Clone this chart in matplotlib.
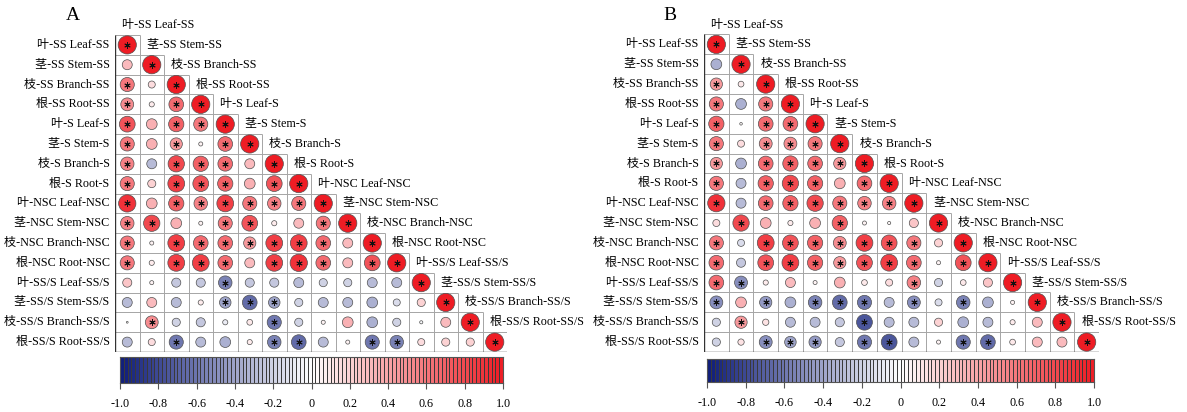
import numpy as np
import matplotlib.pyplot as plt
from matplotlib.colors import LinearSegmentedColormap

plt.rcParams['font.family'] = ['Liberation Serif', 'Noto Sans CJK SC']

labels = ['叶-SS Leaf-SS', '茎-SS Stem-SS', '枝-SS Branch-SS', '根-SS Root-SS',
          '叶-S Leaf-S', '茎-S Stem-S', '枝-S Branch-S', '根-S Root-S',
          '叶-NSC Leaf-NSC', '茎-NSC Stem-NSC', '枝-NSC Branch-NSC', '根-NSC Root-NSC',
          '叶-SS/S Leaf-SS/S', '茎-SS/S Stem-SS/S', '枝-SS/S Branch-SS/S', '根-SS/S Root-SS/S']

# lower triangle, row i holds the correlations with columns 0..i-1 (diagonal = 1)
corr_a = [
    [],
    [0.30],
    [0.60, 0.15],
    [0.50, 0.08, 0.65],
    [0.75, 0.35, 0.70, 0.60],
    [0.60, 0.35, 0.45, 0.05, 0.65],
    [0.55, -0.30, 0.80, 0.70, 0.65, 0.30],
    [0.60, 0.20, 0.85, 0.75, 0.70, 0.35, 0.75],
    [0.90, 0.35, 0.70, 0.55, 0.85, 0.60, 0.55, 0.60],
    [0.55, 0.80, 0.35, 0.05, 0.60, 0.75, 0.08, 0.30, 0.60],
    [0.60, 0.05, 0.85, 0.65, 0.65, 0.45, 0.85, 0.85, 0.65, 0.30],
    [0.60, 0.08, 0.85, 0.85, 0.65, 0.30, 0.85, 0.90, 0.65, 0.30, 0.75],
    [0.25, 0.05, -0.25, -0.25, -0.55, -0.25, -0.25, -0.30, -0.20, -0.20, -0.30, -0.30],
    [-0.30, 0.30, -0.30, 0.08, -0.40, -0.65, -0.40, -0.20, -0.30, -0.30, -0.35, -0.15, 0.20],
    [0.01, 0.50, -0.20, -0.25, -0.08, 0.10, -0.60, -0.20, 0.05, 0.35, -0.35, -0.20, -0.03, 0.30],
    [-0.30, 0.15, -0.60, -0.30, -0.35, 0.08, -0.55, -0.65, -0.30, 0.05, -0.60, -0.55, 0.15, 0.20, 0.20],
]

corr_b = [
    [],
    [-0.35],
    [0.45, 0.10],
    [0.60, -0.35, 0.60],
    [0.70, 0.02, 0.65, 0.65],
    [0.60, 0.15, 0.50, 0.50, 0.60],
    [0.45, -0.35, 0.65, 0.70, 0.65, 0.45],
    [0.60, -0.30, 0.70, 0.80, 0.70, 0.35, 0.65],
    [0.90, -0.30, 0.65, 0.70, 0.80, 0.60, 0.55, 0.55],
    [0.15, 0.80, 0.35, 0.08, 0.35, 0.70, 0.05, 0.03, 0.25],
    [0.60, -0.15, 0.85, 0.75, 0.70, 0.50, 0.85, 0.75, 0.60, 0.20],
    [0.65, -0.25, 0.75, 0.85, 0.70, 0.45, 0.75, 0.85, 0.65, 0.05, 0.75],
    [0.65, -0.50, 0.08, 0.30, 0.05, 0.35, 0.10, 0.15, 0.55, -0.20, 0.10, 0.25],
    [-0.50, 0.35, -0.45, -0.35, -0.55, -0.65, -0.60, -0.30, -0.50, -0.15, -0.55, -0.35, 0.05],
    [-0.20, 0.45, 0.12, -0.30, -0.30, -0.25, -0.75, -0.30, -0.30, 0.20, -0.35, -0.30, 0.08, 0.30],
    [-0.20, 0.12, -0.50, -0.40, -0.45, -0.25, -0.60, -0.75, -0.30, 0.05, -0.60, -0.65, 0.10, 0.30, 0.30],
]

sig_level = 0.40  # |r| above this is marked with *
ticks = [-1.0, -0.8, -0.6, -0.4, -0.2, 0, 0.2, 0.4, 0.6, 0.8, 1.0]
tick_labels = ['-1.0', '-0.8', '-0.6', '-0.4', '-0.2', '0', '0.2', '0.4', '0.6', '0.8', '1.0']

cmap = LinearSegmentedColormap.from_list('bwr2', ['#0f1d7a', '#ffffff', '#ee1c24'])
W, H = 1187, 412
fig = plt.figure(figsize=(W / 100, H / 100), dpi=100)


def draw_corr(rect, rows, letter, letter_xy):
    ax = fig.add_axes(rect)
    n = len(labels)
    ax.set_xlim(0, n)
    ax.set_ylim(n, 0)
    ax.axis('off')

    # grid of the lower triangle (staircase)
    gc = '#a5a5a5'
    for k in range(n + 1):
        ax.hlines(k, 0, min(k + 1, n), color=gc, lw=0.7, zorder=1)
        ax.vlines(k, max(k - 1, 0), n, color=gc, lw=0.7, zorder=1)
    ax.vlines(0, 0, n, color='#333333', lw=1.0, zorder=2)
    ax.hlines(n, 0, n, color='#333333', lw=1.0, zorder=2)

    xs, ys, vals = [], [], []
    for i, row in enumerate(rows):
        for j, v in enumerate(list(row) + [1.0]):
            xs.append(j + 0.5)
            ys.append(i + 0.5)
            vals.append(v)
    xs, ys, vals = np.array(xs), np.array(ys), np.array(vals)

    cell_pt = rect[3] * H / n * 0.72
    base = (0.92 * cell_pt) ** 2
    ax.scatter(xs, ys, s=base * np.abs(vals), c=vals, cmap=cmap, vmin=-1, vmax=1,
               edgecolors='#505050', linewidths=0.5, zorder=3)
    m = np.abs(vals) >= sig_level
    ax.scatter(xs[m], ys[m], s=16, marker=(6, 2, 0), color='#111111',
               linewidths=0.7, zorder=4)

    for i, lab in enumerate(labels):
        ax.text(-0.22, i + 0.5, lab, ha='right', va='center', fontsize=8.7, clip_on=False)
        ax.text(i + 0.3, i - 0.5, lab, ha='left', va='center', fontsize=8.7, clip_on=False)

    fig.text(letter_xy[0] / W, 1 - letter_xy[1] / H, letter, fontsize=14,
             ha='center', va='center')


def draw_bar(rect):
    cax = fig.add_axes(rect)
    edges = np.linspace(-1, 1, 101)
    mids = (edges[:-1] + edges[1:]) / 2
    cax.pcolormesh(edges, [0, 1], mids[np.newaxis, :], cmap=cmap, vmin=-1, vmax=1,
                   edgecolors='#3a3a3a', linewidth=0.4)
    cax.set_xlim(-1, 1)
    cax.set_ylim(0, 1)
    cax.set_yticks([])
    cax.set_xticks(ticks)
    cax.set_xticklabels(tick_labels, fontsize=8.7)
    cax.tick_params(axis='x', direction='out', length=4, width=0.8, color='#555555', pad=7)
    for s in cax.spines.values():
        s.set_color('#555555')
        s.set_linewidth(0.8)


draw_corr([115 / W, 1 - 352 / H, 392 / W, 317 / H], corr_a, 'A', (73, 15))
draw_corr([704 / W, 1 - 352 / H, 395 / W, 317.5 / H], corr_b, 'B', (670, 15))
draw_bar([120 / W, 1 - 383 / H, 383 / W, 26 / H])
draw_bar([707 / W, 1 - 382 / H, 387 / W, 23 / H])

fig.savefig('out.png', dpi=100)
